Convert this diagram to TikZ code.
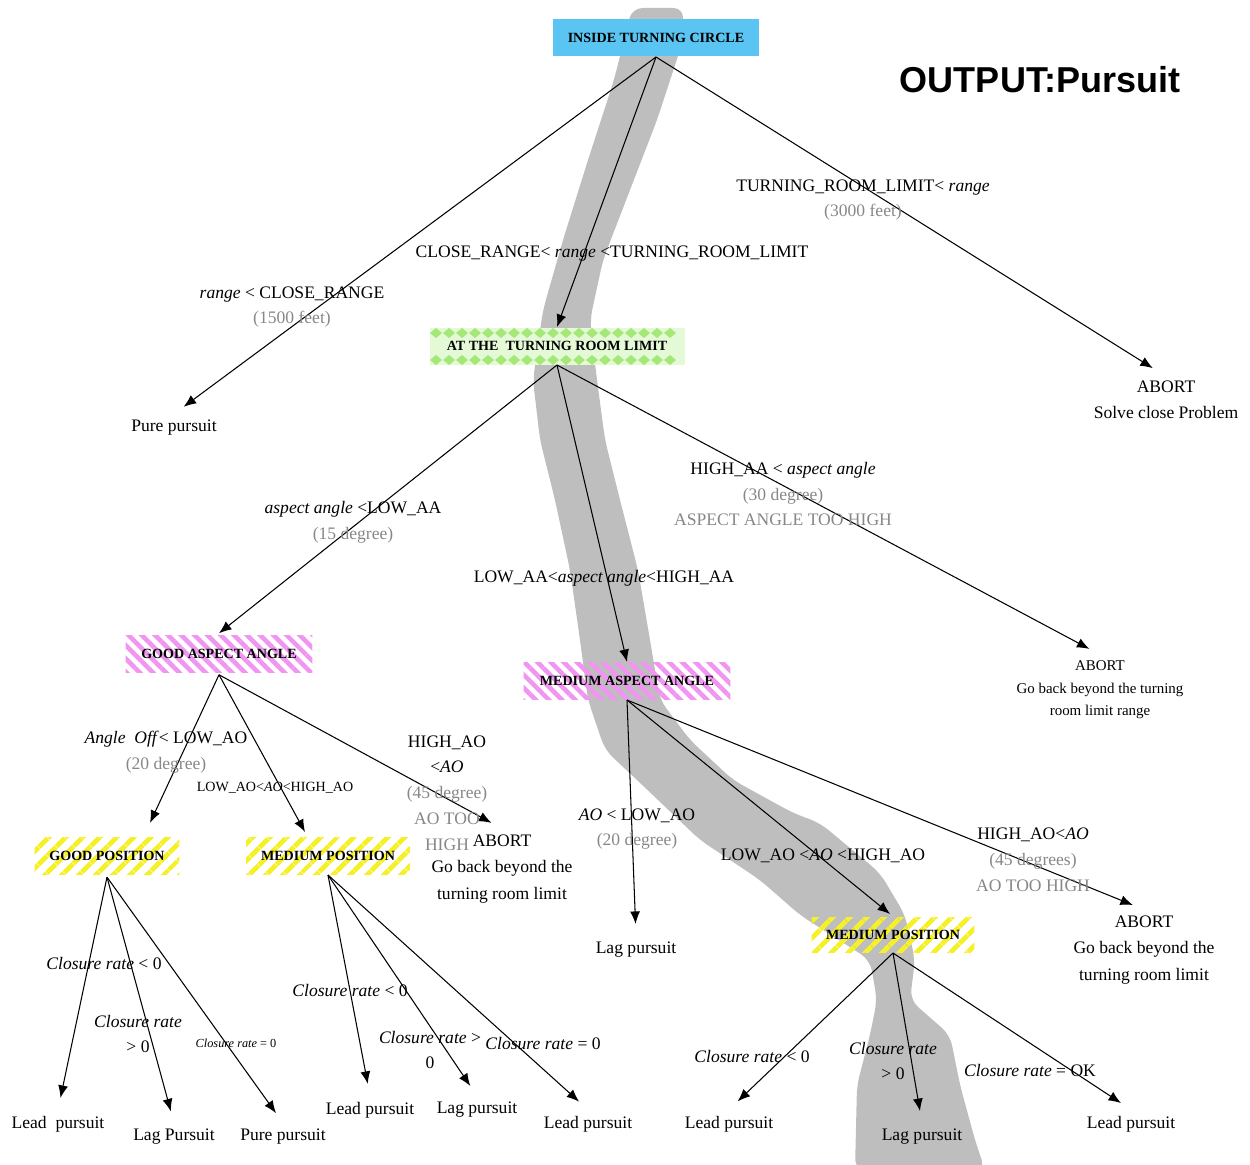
\documentclass[tikz,border=0pt]{standalone}
\usepackage{fontspec}
\setmainfont{Liberation Serif}
\setsansfont{Liberation Sans}
\usepackage{xcolor}
\usepackage{tikz}
\usetikzlibrary{arrows.meta,patterns.meta,calc}

\definecolor{rootblue}{RGB}{90,196,242}
\definecolor{stripepink}{RGB}{240,150,240}
\definecolor{stripeyellow}{RGB}{245,240,40}
\definecolor{dmdgreen}{RGB}{165,232,120}
\definecolor{dmdlight}{RGB}{228,250,214}
\definecolor{pathgray}{RGB}{190,190,190}
\definecolor{notegray}{RGB}{135,135,135}
\newcommand{\dimtxt}[1]{\textcolor{notegray}{#1}}

\tikzset{
  box/.style={font=\footnotesize\bfseries, inner sep=0pt, minimum height=0.74cm},
  pinkbox/.style={box, pattern={Lines[angle=-45,distance=5.3pt,line width=2.6pt]}, pattern color=stripepink},
  yellowbox/.style={box, pattern={Lines[angle=45,distance=7.4pt,line width=3pt]}, pattern color=stripeyellow},
  leaf/.style={align=center, font=\fontsize{10}{15}\selectfont},
  cond/.style={align=center, font=\fontsize{10}{14.7}\selectfont},
  toleaf/.style={->, shorten >=0.24cm}
}

\begin{document}
\begin{tikzpicture}[x=0.02cm, y=-0.02cm, >={Latex[length=2.5mm,width=2mm]}, line width=0.6pt]
\useasboundingbox (0,0) rectangle (1250,1165);

% grey band along the chosen branch
\fill[pathgray, rounded corners=6pt] (632,8) -- (614,80) -- (588,160) -- (563,240) -- (543,310)
  -- (533,380) -- (540,440) -- (555,500) -- (570,570) -- (580,640) -- (588,700) -- (605,750)
  -- (637,780) -- (700,840) -- (760,880) -- (800,915) -- (870,960) -- (877,1000) -- (870,1035)
  -- (857,1085) -- (855,1170) -- (985,1170) -- (975,1140) -- (960,1085) -- (950,1035)
  -- (910,1000) -- (915,960) -- (905,915) -- (880,873) -- (820,823) -- (793,813) -- (733,780)
  -- (690,740) -- (660,700) -- (650,640) -- (638,570) -- (620,500) -- (605,440) -- (597,380)
  -- (590,320) -- (603,260) -- (630,190) -- (657,120) -- (680,50) -- (684,8) -- cycle;

\node[font=\sffamily\bfseries\fontsize{20.5}{24}\selectfont] (title) at (1040,80) {OUTPUT:Pursuit};

% decision boxes
\node[box, fill=rootblue, minimum width=4.14cm] (root) at (656,38) {INSIDE TURNING CIRCLE};
\fill[dmdlight] (430,328) rectangle (685,365);
\foreach \x in {436,449,...,680} {
  \fill[dmdgreen] (\x,328) -- (\x+6,333) -- (\x,338) -- (\x-6,333) -- cycle;
  \fill[dmdgreen] (\x,355) -- (\x+6,360) -- (\x,365) -- (\x-6,360) -- cycle;
}
\node[box, minimum width=5.1cm] (atl) at (557,346) {AT THE\ \ TURNING ROOM LIMIT};
\node[pinkbox, minimum width=3.74cm] (gaa) at (219,654) {GOOD ASPECT ANGLE};
\node[pinkbox, minimum width=4.14cm] (maa) at (627,681) {MEDIUM ASPECT ANGLE};
\node[yellowbox, minimum width=2.9cm] (gp) at (107,856) {GOOD POSITION};
\node[yellowbox, minimum width=3.28cm] (mp1) at (328,856) {MEDIUM POSITION};
\node[yellowbox, minimum width=3.26cm, minimum height=0.7cm] (mp2) at (893,935) {MEDIUM POSITION};

% outcomes
\node[leaf] (pure1) at (174,428) {Pure pursuit};
\node[leaf] (abort1) at (1166,400) {ABORT\\Solve close Problem};
\node[leaf, font=\fontsize{8.5}{12.8}\selectfont] (abort2) at (1100,690) {ABORT\\Go back beyond the turning\\room limit range};
\node[leaf] (abort3) at (502,869) {ABORT\\Go back beyond the\\turning room limit};
\node[leaf] (lag1) at (636,950) {Lag pursuit};
\node[leaf] (abort4) at (1144,950) {ABORT\\Go back beyond the\\turning room limit};
\node[leaf] (lead1) at (58,1124) {Lead\ \ pursuit};
\node[leaf] (lag2) at (174,1137) {Lag Pursuit};
\node[leaf] (pure2) at (283,1137) {Pure pursuit};
\node[leaf] (lead2) at (370,1110) {Lead pursuit};
\node[leaf] (lag3) at (477,1110) {Lag pursuit};
\node[leaf] (lead3) at (588,1124) {Lead pursuit};
\node[leaf] (lead4) at (729,1124) {Lead pursuit};
\node[leaf] (lag4) at (922,1137) {Lag pursuit};
\node[leaf] (lead5) at (1131,1124) {Lead pursuit};

% branches
\draw[->] (root.south) -- (atl.north);
\draw[toleaf] (root.south) -- (pure1.north);
\draw[toleaf] (root.south) -- ($(abort1.north)+(-3,0)$);
\draw[->] (atl.south) -- (gaa.north);
\draw[->] (atl.south) -- (maa.north);
\draw[toleaf] (atl.south) -- (abort2.north);
\draw[->] (gaa.south) -- ($(gp.north)+(43,-12)$);
\draw[->] (gaa.south) -- ($(mp1.north)+(-23,-5)$);
\draw[toleaf] (gaa.south) -- (abort3.north);
\draw[toleaf] (maa.south) -- (lag1.north);
\draw[->] (maa.south) -- ($(mp2.north)+(-3,-3)$);
\draw[toleaf] (maa.south) -- (abort4.north);
\draw[toleaf] (gp.south) -- (lead1.north);
\draw[toleaf] (gp.south) -- (lag2.north);
\draw[toleaf] (gp.south) -- (pure2.north);
\draw[toleaf] (mp1.south) -- (lead2.north);
\draw[toleaf] (mp1.south) -- (lag3.north);
\draw[toleaf] (mp1.south) -- (lead3.north);
\draw[toleaf] (mp2.south) -- (lead4.north);
\draw[toleaf] (mp2.south) -- (lag4.north);
\draw[toleaf] (mp2.south) -- (lead5.north);

% branch conditions
\node[cond] (c1) at (863,200) {TURNING\_ROOM\_LIMIT< \textit{range}\\\dimtxt{(3000 feet)}};
\node[cond] (c2) at (612,254) {CLOSE\_RANGE< \textit{range} <TURNING\_ROOM\_LIMIT};
\node[cond] (c3) at (292,307) {\textit{range} < CLOSE\_RANGE\\\dimtxt{(1500 feet)}};
\node[cond] (c4) at (783,494) {HIGH\_AA < \textit{aspect angle}\\\dimtxt{(30 degree)}\\\dimtxt{ASPECT ANGLE TOO HIGH}};
\node[cond] (c5) at (353,522) {\textit{aspect angle} <LOW\_AA\\\dimtxt{(15 degree)}};
\node[cond] (c6) at (604,578) {LOW\_AA<\textit{aspect angle}<HIGH\_AA};
\node[cond] (c7) at (166,752) {\textit{Angle\ \ Off}< LOW\_AO\\\dimtxt{(20 degree)}};
\node[cond, font=\footnotesize] (c8) at (275,788) {LOW\_AO<\textit{AO}<HIGH\_AO};
\node[cond] (c9) at (447,793) {HIGH\_AO\\<\textit{AO}\\\dimtxt{(45 degree)}\\\dimtxt{AO TOO}\\\dimtxt{HIGH}};
\node[cond] (c10) at (637,829) {\textit{AO} < LOW\_AO\\\dimtxt{(20 degree)}};
\node[cond] (c11) at (823,856) {LOW\_AO <\textit{AO} <HIGH\_AO};
\node[cond] (c12) at (1033,860) {HIGH\_AO<\textit{AO}\\\dimtxt{(45 degrees)}\\\dimtxt{AO TOO HIGH}};
\node[cond] (c13) at (104,963) {\textit{Closure rate} < 0};
\node[cond] (c14) at (138,1034) {\textit{Closure rate}\\> 0};
\node[cond, font=\scriptsize] (c15) at (236,1043) {\textit{Closure rate} = 0};
\node[cond] (c16) at (350,990) {\textit{Closure rate} < 0};
\node[cond] (c17) at (430,1050) {\textit{Closure rate} >\\0};
\node[cond] (c18) at (543,1043) {\textit{Closure rate} = 0};
\node[cond] (c19) at (752,1056) {\textit{Closure rate} < 0};
\node[cond] (c20) at (893,1061) {\textit{Closure rate}\\> 0};
\node[cond] (c21) at (1030,1070) {\textit{Closure rate} = OK};
\end{tikzpicture}
\end{document}
